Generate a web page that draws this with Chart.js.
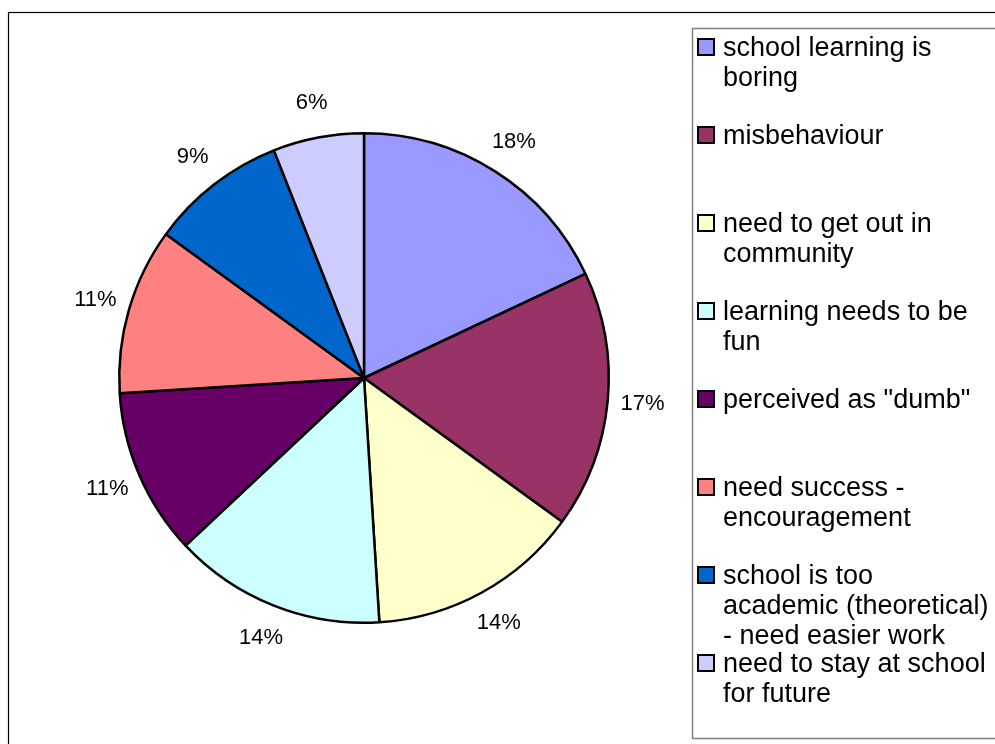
<!DOCTYPE html>
<html>
<head>
<meta charset="utf-8">
<title>Reasons</title>
<script src="https://cdn.jsdelivr.net/npm/chart.js@4.4.0/dist/chart.umd.min.js"></script>
<style>
    html, body { margin: 0; padding: 0; background: #fff; }
    #wrap { width: 995px; height: 744px; }
</style>
</head>
<body>
<div id="wrap"><canvas id="reasonsChart" width="995" height="744"></canvas></div>
<script>
// Categories (already wrapped the way the legend shows them)
const categories = [
    ["school learning is", "boring"],
    ["misbehaviour"],
    ["need to get out in", "community"],
    ["learning needs to be", "fun"],
    ["perceived as \"dumb\""],
    ["need success -", "encouragement"],
    ["school is too", "academic (theoretical)", "- need easier work"],
    ["need to stay at school", "for future"],
];

// Share of responses, percent
const shares = [18, 17, 14, 14, 11, 11, 9, 6];

const sliceColors = [
    "#9999ff",
    "#993366",
    "#ffffcc",
    "#ccffff",
    "#660066",
    "#ff8080",
    "#0066cc",
    "#ccccff",
];

const FONT = "Arial, 'Liberation Sans', sans-serif";

// White background, outer frame and the legend box
const framePlugin = {
    id: "frame",
    beforeDraw(chart) {
        const ctx = chart.ctx;
        ctx.save();
        ctx.fillStyle = "#fff";
        ctx.fillRect(0, 0, chart.width, chart.height);
        ctx.strokeStyle = "#000";
        ctx.lineWidth = 1.2;
        ctx.strokeRect(8.5, 12.5, chart.width + 20, chart.height + 20);
        ctx.strokeStyle = "#808080";
        ctx.lineWidth = 1.5;
        ctx.strokeRect(692.5, 28.5, chart.width, 710);
        ctx.restore();
    },
};

// Percent labels just outside each slice
const sliceLabels = {
    id: "sliceLabels",
    afterDatasetsDraw(chart) {
        const ctx = chart.ctx;
        const meta = chart.getDatasetMeta(0);
        const values = chart.data.datasets[0].data;
        const total = values.reduce((a, b) => a + b, 0);
        ctx.save();
        ctx.font = "22px " + FONT;
        ctx.fillStyle = "#000";
        ctx.textAlign = "center";
        ctx.textBaseline = "middle";
        meta.data.forEach((arc, i) => {
            const p = arc.getProps(["x", "y", "startAngle", "endAngle", "outerRadius"], true);
            const mid = (p.startAngle + p.endAngle) / 2;
            const dist = p.outerRadius + 35;
            const text = Math.round((values[i] / total) * 100) + "%";
            ctx.fillText(text, p.x + Math.cos(mid) * dist, p.y + Math.sin(mid) * dist);
        });
        ctx.restore();
    },
};

// Legend on the right, fixed spacing per entry
const boxLegend = {
    id: "boxLegend",
    afterDraw(chart) {
        const ctx = chart.ctx;
        const colors = chart.data.datasets[0].backgroundColor;
        ctx.save();
        ctx.font = "27px " + FONT;
        ctx.textAlign = "left";
        ctx.textBaseline = "alphabetic";
        chart.data.labels.forEach((lines, i) => {
            const base = 56 + i * 88;
            ctx.fillStyle = colors[i];
            ctx.fillRect(698, base - 17, 16, 16);
            ctx.strokeStyle = "#000";
            ctx.lineWidth = 2;
            ctx.strokeRect(698, base - 17, 16, 16);
            ctx.fillStyle = "#000";
            lines.forEach((line, j) => {
                ctx.fillText(line, 723, base + j * 30);
            });
        });
        ctx.restore();
    },
};

new Chart(document.getElementById("reasonsChart").getContext("2d"), {
    type: "pie",
    data: {
        labels: categories,
        datasets: [
            {
                data: shares,
                backgroundColor: sliceColors,
                borderColor: "#000",
                borderWidth: 2.5,
            },
        ],
    },
    options: {
        responsive: false,
        animation: false,
        layout: {
            padding: { left: 118, right: 385, top: 132, bottom: 120 },
        },
        plugins: {
            legend: { display: false },
            tooltip: { enabled: false },
        },
    },
    plugins: [framePlugin, sliceLabels, boxLegend],
});
</script>
</body>
</html>
